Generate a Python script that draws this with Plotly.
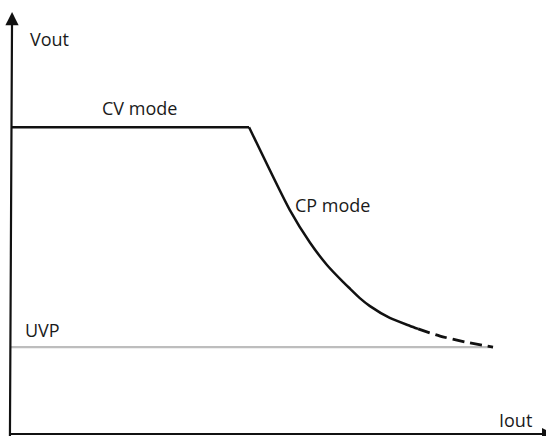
import plotly.graph_objects as go

# Data (chart units: Iout 0..100, Vout 0..100)
cv_x = [0.0, 44.5]
cv_y = [72.7, 72.7]
cp_x = [44.5, 52.1, 55.9, 59.1, 62.1, 63.4, 65.2, 67.1, 70.8, 74.6, 76.1]
cp_y = [72.7, 53.1, 45.3, 40.0, 36.0, 34.4, 32.2, 30.3, 27.5, 25.6, 24.9]
tail_x = [76.1, 80.2, 84.9, 90.1]
tail_y = [24.9, 23.2, 21.8, 20.6]
uvp_x = [0.0, 90.1]
uvp_y = [20.6, 20.6]

labels = ["Vout", "CV mode", "CP mode", "UVP", "Iout"]
label_x = [3.2, 16.6, 52.7, 2.2, 90.8]
label_y = [93.6, 77.3, 54.3, 24.6, 3.3]

fig = go.Figure()
fig.add_trace(go.Scatter(x=uvp_x, y=uvp_y, mode="lines",
                         line=dict(color="#bdbdbd", width=2.2), hoverinfo="skip"))
fig.add_trace(go.Scatter(x=cv_x, y=cv_y, mode="lines",
                         line=dict(color="#111111", width=2.5), hoverinfo="skip"))
fig.add_trace(go.Scatter(x=cp_x, y=cp_y, mode="lines",
                         line=dict(color="#111111", width=2.5, shape="spline", smoothing=0.6),
                         hoverinfo="skip"))
fig.add_trace(go.Scatter(x=tail_x, y=tail_y, mode="lines",
                         line=dict(color="#111111", width=2.8, dash="12px,6px",
                                   shape="spline", smoothing=0.6),
                         hoverinfo="skip"))

annotations = []
for t, x, y in zip(labels, label_x, label_y):
    annotations.append(dict(x=x, y=y, text=t, showarrow=False, xanchor="left",
                            yanchor="middle", font=dict(size=18, color="#1a1a1a",
                                                        family="Open Sans, sans-serif")))
# axes with arrows
annotations.append(dict(x=0.2, y=100.0, ax=-0.2, ay=-1.0, axref="x", ayref="y",
                        xref="x", yref="y", text="", showarrow=True, arrowhead=2,
                        arrowsize=1.2, arrowwidth=2.2, arrowcolor="#111111", standoff=0))
annotations.append(dict(x=101.5, y=0.0, ax=-0.3, ay=0.0, axref="x", ayref="y",
                        xref="x", yref="y", text="", showarrow=True, arrowhead=2,
                        arrowsize=1.2, arrowwidth=2.0, arrowcolor="#111111", standoff=0))

fig.update_layout(
    width=546, height=436,
    margin=dict(l=0, r=0, t=0, b=0),
    paper_bgcolor="white", plot_bgcolor="white",
    showlegend=False,
    xaxis=dict(range=[-2.056, 100], visible=False, fixedrange=True),
    yaxis=dict(range=[-0.474, 102.84], visible=False, fixedrange=True),
    annotations=annotations,
)
fig.write_html("out.html", config={"displayModeBar": False},
               post_script="document.body.style.margin='0';document.body.style.overflow='hidden';")
